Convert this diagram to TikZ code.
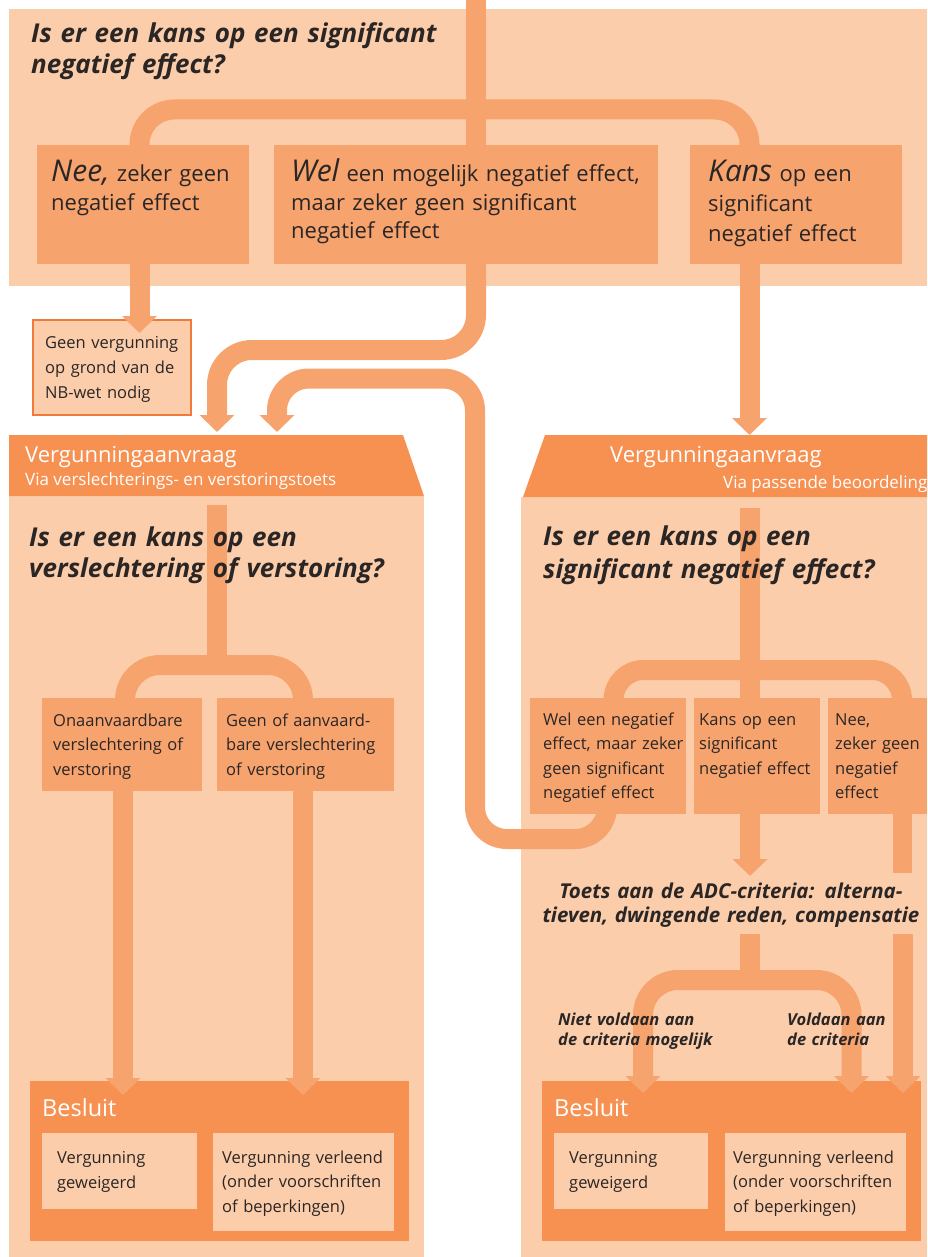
\documentclass[tikz,border=0pt]{standalone}
\usepackage{fontspec}
\setmainfont{Open Sans}
\usetikzlibrary{arrows.meta,calc}
\definecolor{peach}{HTML}{FCCDAA}
\definecolor{mid}{HTML}{F7A36E}
\definecolor{dark}{HTML}{F69152}
\definecolor{ink}{HTML}{2A2626}
\definecolor{rim}{HTML}{EF7B3A}
\pgfdeclarelayer{bg}\pgfdeclarelayer{lines}\pgfdeclarelayer{fg}
\pgfsetlayers{bg,lines,main,fg}
\begin{document}
\begin{tikzpicture}[x=1pt,y=-1pt,
  conn/.style={draw=mid, line width=20pt, rounded corners=35pt},
  tipped/.style={-{Triangle[width=34pt,length=17pt]}},
  box/.style={fill=mid, inner sep=0pt, outer sep=0pt, anchor=north west},
  lbox/.style={fill=peach, inner sep=0pt, outer sep=0pt, anchor=north west},
  dbox/.style={fill=dark, inner sep=0pt, outer sep=0pt, anchor=north west},
  txt/.style={text=ink, anchor=base west, align=left, inner sep=0pt, text width=600pt},
  big/.style={font=\fontsize{22}{28.5}\selectfont},
  sml/.style={font=\fontsize{16.5}{24.5}\selectfont},
  qst/.style={font=\fontsize{26}{31}\selectfont\bfseries\itshape},
  lab/.style={font=\fontsize{16.5}{20}\selectfont\bfseries\itshape},
  hd/.style={text=white, anchor=base west, inner sep=0pt}
]
\useasboundingbox (0,0) rectangle (927,1257);

% ---------- panels ----------
\begin{pgfonlayer}{bg}
  \fill[peach] (9,9) rectangle (927,286);
  \fill[peach] (9,496) rectangle (424,1257);
  \fill[peach] (521,497) rectangle (927,1257);
  \fill[dark] (9,435) -- (403,435) -- (424,496) -- (9,496) -- cycle;
  \fill[dark] (545,435) -- (927,435) -- (927,497) -- (523,497) -- cycle;
\end{pgfonlayer}

% ---------- boxes ----------
\node[box, minimum width=212pt, minimum height=119pt] (nee) at (37,145) {};
\node[box, minimum width=384pt, minimum height=119pt] (wel) at (274,145) {};
\node[box, minimum width=212pt, minimum height=119pt] (kans) at (690,145) {};
\node[lbox, draw=rim, line width=2pt, minimum width=158pt, minimum height=95pt] (geen) at (33,320) {};
\node[box, minimum width=160pt, minimum height=93pt] (onaan) at (42,698) {};
\node[box, minimum width=177pt, minimum height=93pt] (geenof) at (217,698) {};
\node[box, minimum width=156pt, minimum height=116pt] (wel2) at (530,698) {};
\node[box, minimum width=126pt, minimum height=116pt] (kans2) at (694,698) {};
\node[box, minimum width=99pt, minimum height=116pt] (nee2) at (828,698) {};
\node[dbox, minimum width=379pt, minimum height=160pt] (besL) at (30,1081) {};
\node[dbox, minimum width=379pt, minimum height=160pt] (besR) at (542,1081) {};
\node[lbox, minimum width=155pt, minimum height=76pt] (vgL) at (42,1133) {};
\node[lbox, minimum width=181pt, minimum height=98pt] (vlL) at (213,1133) {};
\node[lbox, minimum width=154pt, minimum height=76pt] (vgR) at (554,1133) {};
\node[lbox, minimum width=181pt, minimum height=98pt] (vlR) at (725,1133) {};

% ---------- named free ends ----------
\coordinate (topin) at (476,0);
\coordinate (tipA) at (217,432);
\coordinate (tipB) at (277,432);
\coordinate (tipK) at (749.5,435);
\coordinate (stemL) at (217,505);
\coordinate (stemR) at (750,508);
\coordinate (stemA) at (750,934);
\coordinate (stemF) at (903,934);

% ---------- connectors below boxes ----------
\begin{pgfonlayer}{lines}
  \draw[conn] (topin) -- ([xshift=202pt,yshift=-6pt]wel.north west);
  \draw[conn] ([xshift=102.5pt,yshift=-6pt]nee.north west) -- (139.5,109.5) -- (749.5,109.5) -- ([xshift=59.5pt,yshift=-6pt]kans.north west);
  \draw[conn, tipped] ([xshift=202pt,yshift=4pt]wel.south west) -- (476,350) -- (217,350) -- (tipA);
  \draw[conn, tipped, rounded corners=32pt] ([xshift=77pt,yshift=14pt]wel2.south west) -- (607,839) -- (475,839) -- (475,378.5) -- (277,378.5) -- (tipB);
  \draw[conn] (stemL) -- (217,668);
  \draw[conn] ([xshift=83pt,yshift=-8pt]onaan.north west) -- (125,665) -- (303,665) -- ([xshift=86pt,yshift=-8pt]geenof.north west);
  \draw[conn] (stemR) -- ([xshift=56pt,yshift=-8pt]kans2.north west);
  \draw[conn, rounded corners=30pt] ([xshift=83.5pt,yshift=-8pt]wel2.north west) -- (613.5,670) -- (902,670) -- ([xshift=74pt,yshift=-8pt]nee2.north west);
  \draw[conn] (stemA) -- (750,985);
\end{pgfonlayer}

% ---------- arrows above boxes ----------
\draw[conn, tipped] ([xshift=102.5pt]nee.south west) -- (139.5,333);
\draw[conn, tipped] ([xshift=59.5pt]kans.south west) -- (tipK);
\draw[conn, tipped] ([xshift=81pt]onaan.south west) -- ([xshift=93pt,yshift=-14pt]besL.north west);
\draw[conn, tipped] ([xshift=86pt]geenof.south west) -- ([xshift=273pt,yshift=-14pt]besL.north west);
\draw[conn, tipped] ([xshift=56pt]kans2.south west) -- (750,876);
\draw[draw=mid, line width=19pt] ([xshift=74pt]nee2.south west) -- (902,873);
\draw[conn, tipped] (750,980) -- (643,980) -- ([xshift=101pt,yshift=-12pt]besR.north west);
\draw[conn, tipped] (750,980) -- (851.5,980) -- ([xshift=309.5pt,yshift=-12pt]besR.north west);
\draw[conn, tipped] (stemF) -- ([xshift=361pt,yshift=-12pt]besR.north west);

% ---------- texts ----------
\begin{pgfonlayer}{fg}
\node[txt, font=\fontsize{26}{31}\selectfont\bfseries\itshape] (title) at (31,43) {Is er een kans op een significant\\negatief effect?};
\node[txt, big] (neeT) at (51,182) {{\fontsize{30}{28}\selectfont\itshape Nee,} zeker geen\\negatief effect};
\node[txt, big] (welT) at (291,182) {{\fontsize{30}{28}\selectfont\itshape Wel} een mogelijk negatief effect,\\maar zeker geen significant\\negatief effect};
\node[txt, font=\fontsize{22}{30}\selectfont] (kansT) at (708,182) {{\fontsize{30}{28}\selectfont\itshape Kans} op een\\significant\\negatief effect};
\node[txt, font=\fontsize{16.5}{25}\selectfont] (geenT) at (45,348) {Geen vergunning\\op grond van de\\NB-wet nodig};
\node[hd, font=\fontsize{22}{22}\selectfont] (hdL1) at (25,462) {Vergunningaanvraag};
\node[hd, font=\fontsize{17}{17}\selectfont] (hdL2) at (25,485) {Via verslechterings- en verstoringstoets};
\node[hd, font=\fontsize{22}{22}\selectfont] (hdR1) at (610,462) {Vergunningaanvraag};
\node[hd, font=\fontsize{17}{17}\selectfont] (hdR2) at (723,488) {Via passende beoordeling};
\node[txt, qst] (qL) at (29,546) {Is er een kans op een\\verslechtering of verstoring?};
\node[txt, font=\fontsize{26}{33}\selectfont\bfseries\itshape] (qR) at (543,545) {Is er een kans op een\\significant negatief effect?};
\node[txt, sml] (onaanT) at (53,726) {Onaanvaardbare\\verslechtering of\\verstoring};
\node[txt, sml] (geenofT) at (226,726) {Geen of aanvaard-\\bare verslechtering\\of verstoring};
\node[txt, sml] (wel2T) at (543,725) {Wel een negatief\\effect, maar zeker\\geen significant\\negatief effect};
\node[txt, sml] (kans2T) at (699,725) {Kans op een\\significant\\negatief effect};
\node[txt, sml] (nee2T) at (835,725) {Nee,\\zeker geen\\negatief\\effect};
\node[text=ink, anchor=base, align=center, inner sep=0pt, text width=420pt, font=\fontsize{20.5}{24}\selectfont\bfseries\itshape] (adcT) at (731,898) {Toets aan de ADC-criteria: alterna-\\tieven, dwingende reden, compensatie};
\node[txt, lab] (nvT) at (558,1025) {Niet voldaan aan\\de criteria mogelijk};
\node[txt, lab] (vT) at (787,1025) {Voldaan aan\\de criteria};
\node[hd, font=\fontsize{23.5}{24}\selectfont] (besLT) at (42,1116) {Besluit};
\node[hd, font=\fontsize{23.5}{24}\selectfont] (besRT) at (554,1116) {Besluit};
\node[txt, font=\fontsize{16.5}{25}\selectfont] (vgLT) at (57,1163) {Vergunning\\geweigerd};
\node[txt, sml] (vlLT) at (222,1163) {Vergunning verleend\\(onder voorschriften\\of beperkingen)};
\node[txt, font=\fontsize{16.5}{25}\selectfont] (vgRT) at (569,1163) {Vergunning\\geweigerd};
\node[txt, sml] (vlRT) at (733,1163) {Vergunning verleend\\(onder voorschriften\\of beperkingen)};
\end{pgfonlayer}
\end{tikzpicture}
\end{document}
